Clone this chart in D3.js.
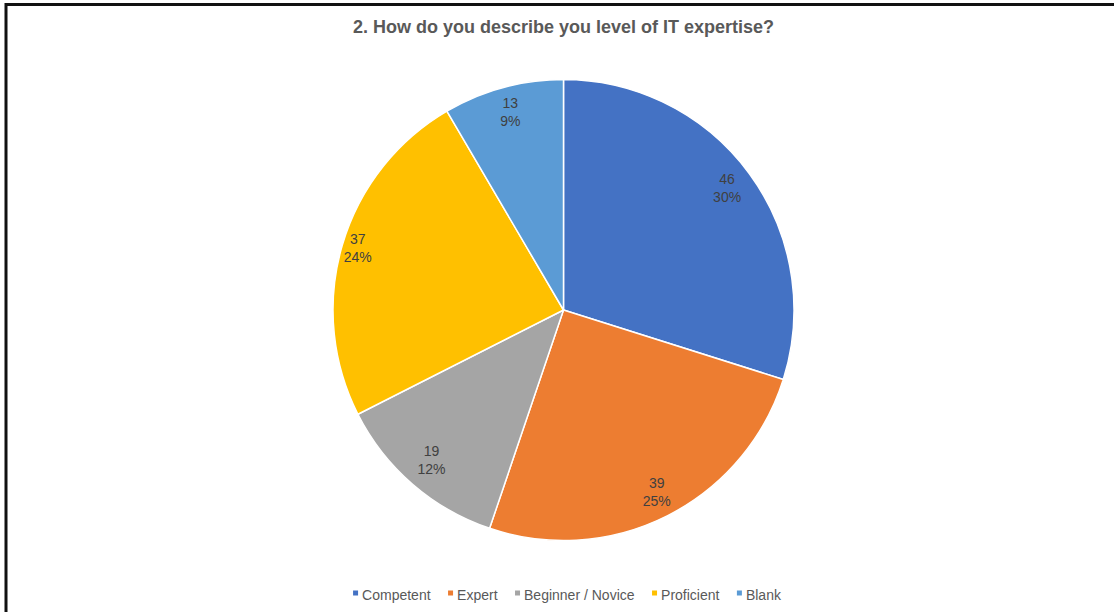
<!DOCTYPE html>
<html>
<head>
<meta charset="utf-8">
<script src="https://cdn.jsdelivr.net/npm/d3@7"></script>
<style>
  html, body { margin: 0; padding: 0; background: #fff; }
  svg { display: block; }
  text { font-family: "Liberation Sans", Arial, sans-serif; }
</style>
</head>
<body>
<svg id="chart" width="1114" height="612"></svg>
<script>
// Survey responses: level of IT expertise
const categories = ["Competent", "Expert", "Beginner / Novice", "Proficient", "Blank"];
const counts = [46, 39, 19, 37, 13];
const percentLabels = ["30%", "25%", "12%", "24%", "9%"];
const colors = ["#4472C4", "#ED7D31", "#A5A5A5", "#FFC000", "#5B9BD5"];
const title = "2. How do you describe you level of IT expertise?";

const W = 1114, H = 612;
const cx = 563.5, cy = 310, radius = 230.5;
// how far out along each slice its value label sits, as a share of the radius
const labelRadiusFactor = [0.88, 0.895, 0.875, 0.93, 0.88];

const svg = d3.select("#chart");

// outer frame (top and left edges visible)
svg.append("path")
  .attr("d", `M6,${H} L6,4.5 L${W},4.5`)
  .attr("fill", "none")
  .attr("stroke", "#111")
  .attr("stroke-width", 3);

svg.append("text")
  .attr("x", cx)
  .attr("y", 33)
  .attr("text-anchor", "middle")
  .attr("font-size", 18)
  .attr("font-weight", "bold")
  .attr("fill", "#595959")
  .text(title);

const data = categories.map((c, i) => ({ name: c, value: counts[i], pct: percentLabels[i], color: colors[i] }));

const pie = d3.pie().value(d => d.value).sort(null);
const arcs = pie(data);

const arc = d3.arc().innerRadius(0).outerRadius(radius);

const g = svg.append("g").attr("transform", `translate(${cx},${cy})`);

g.selectAll("path.slice")
  .data(arcs)
  .join("path")
  .attr("class", "slice")
  .attr("d", arc)
  .attr("fill", d => d.data.color)
  .attr("stroke", "#fff")
  .attr("stroke-width", 1.5)
  .attr("stroke-linejoin", "round");

const labels = g.selectAll("text.lbl")
  .data(arcs)
  .join("text")
  .attr("class", "lbl")
  .attr("transform", d => {
    const r = radius * labelRadiusFactor[d.index];
    const c = d3.arc().innerRadius(r).outerRadius(r).centroid(d);
    return `translate(${c})`;
  })
  .attr("text-anchor", "middle")
  .attr("font-size", 14)
  .attr("fill", "#404040");

labels.append("tspan").attr("x", 0).attr("y", -6).text(d => d.data.value);
labels.append("tspan").attr("x", 0).attr("y", 12).text(d => d.data.pct);

// legend along the bottom
const legend = svg.append("g").attr("class", "legend");
const items = legend.selectAll("g.item").data(data).join("g").attr("class", "item");
items.append("rect")
  .attr("width", 5).attr("height", 5)
  .attr("y", -4.5)
  .attr("fill", d => d.color);
items.append("text")
  .attr("x", 9)
  .attr("y", 0)
  .attr("dy", "0.35em")
  .attr("font-size", 14)
  .attr("fill", "#595959")
  .text(d => d.name);

let x = 0;
const gap = 17.5;
items.each(function () {
  const t = d3.select(this).select("text").node().getComputedTextLength();
  d3.select(this).attr("transform", `translate(${x},0)`);
  x += 9 + t + gap;
});
const total = x - gap;
legend.attr("transform", `translate(${567 - total / 2},595)`);
</script>
</body>
</html>
